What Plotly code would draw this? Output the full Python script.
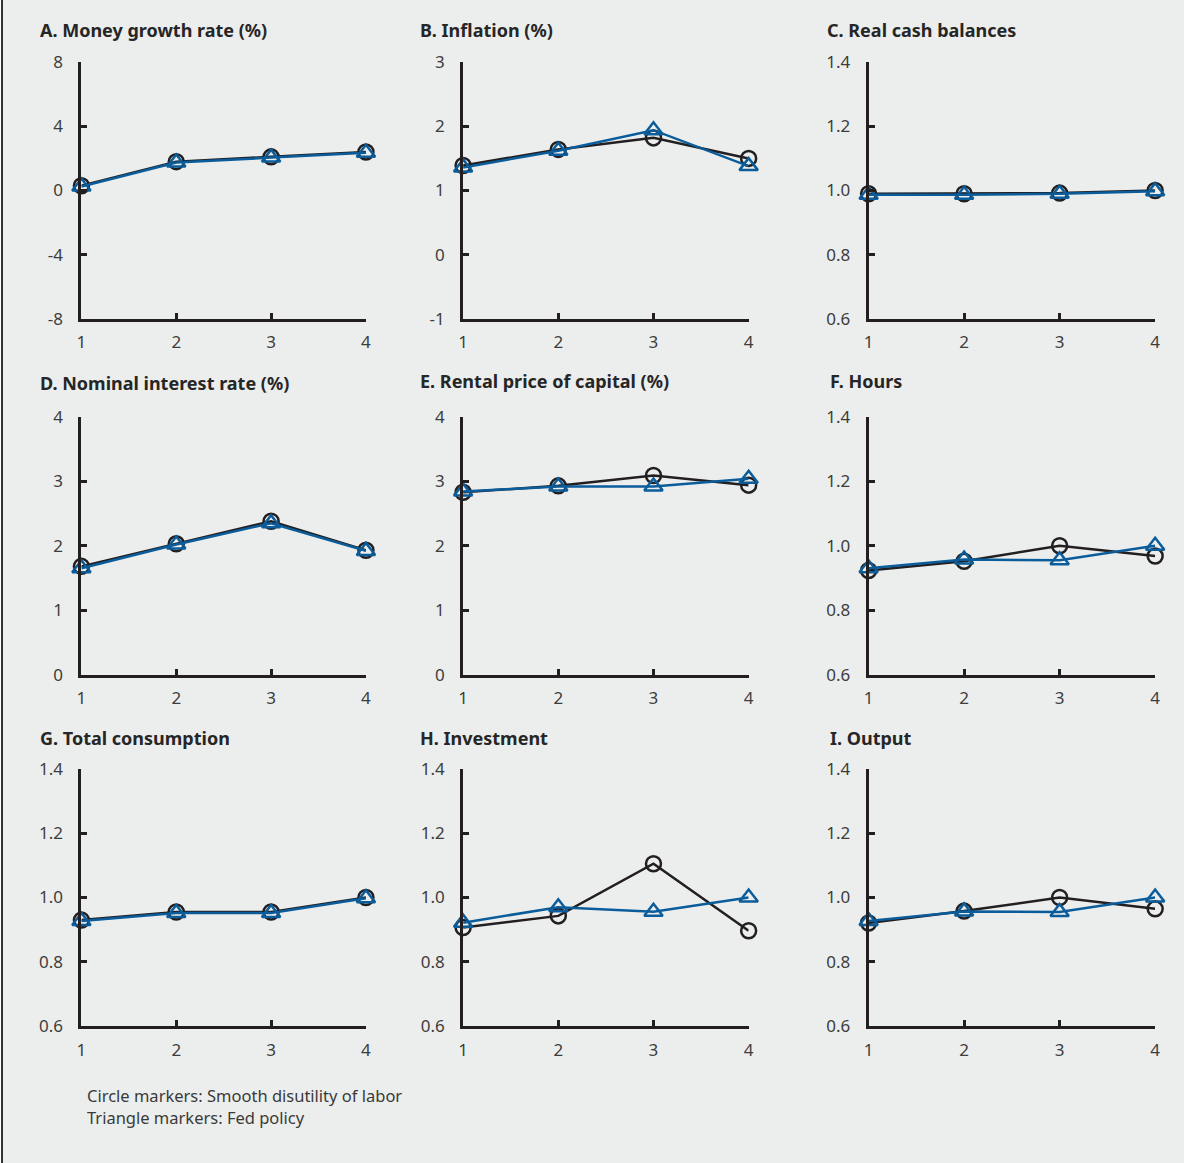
import plotly.graph_objects as go

# The page keeps the browser's default 8px body margin, so the figure is
# sized to fill the 1184x1163 window exactly inside that margin.
PAGE_W, PAGE_H = 1184, 1163
OFF = 8
W, H = PAGE_W - 2 * OFF, PAGE_H - 2 * OFF

periods = [1, 2, 3, 4]

titles = ["A. Money growth rate (%)", "B. Inflation (%)", "C. Real cash balances",
          "D. Nominal interest rate (%)", "E. Rental price of capital (%)", "F. Hours",
          "G. Total consumption", "H. Investment", "I. Output"]

# Circle markers: Smooth disutility of labor
smooth_A = [0.3, 1.8, 2.1, 2.4]
smooth_B = [1.39, 1.64, 1.82, 1.50]
smooth_C = [0.99, 0.99, 0.992, 1.0]
smooth_D = [1.68, 2.03, 2.38, 1.93]
smooth_E = [2.83, 2.93, 3.09, 2.94]
smooth_F = [0.923, 0.952, 1.0, 0.968]
smooth_G = [0.93, 0.955, 0.955, 1.0]
smooth_H = [0.907, 0.943, 1.105, 0.897]
smooth_I = [0.921, 0.958, 1.0, 0.965]

# Triangle markers: Fed policy
fed_A = [0.25, 1.75, 2.05, 2.35]
fed_B = [1.36, 1.62, 1.94, 1.38]
fed_C = [0.987, 0.987, 0.99, 0.998]
fed_D = [1.65, 2.02, 2.35, 1.92]
fed_E = [2.84, 2.92, 2.92, 3.04]
fed_F = [0.93, 0.957, 0.955, 1.0]
fed_G = [0.927, 0.952, 0.952, 0.998]
fed_H = [0.922, 0.97, 0.956, 1.0]
fed_I = [0.927, 0.957, 0.955, 1.0]

y_ranges = [[-8, 8], [-1, 3], [0.6, 1.4],
            [0, 4], [0, 4], [0.6, 1.4],
            [0.6, 1.4], [0.6, 1.4], [0.6, 1.4]]
y_tickvals = [[-8, -4, 0, 4, 8], [-1, 0, 1, 2, 3], [0.6, 0.8, 1.0, 1.2, 1.4],
              [0, 1, 2, 3, 4], [0, 1, 2, 3, 4], [0.6, 0.8, 1.0, 1.2, 1.4],
              [0.6, 0.8, 1.0, 1.2, 1.4], [0.6, 0.8, 1.0, 1.2, 1.4], [0.6, 0.8, 1.0, 1.2, 1.4]]
y_ticktext = [["-8", "-4", "0", "4", "8"], ["-1", "0", "1", "2", "3"],
              ["0.6", "0.8", "1.0", "1.2", "1.4"],
              ["0", "1", "2", "3", "4"], ["0", "1", "2", "3", "4"],
              ["0.6", "0.8", "1.0", "1.2", "1.4"],
              ["0.6", "0.8", "1.0", "1.2", "1.4"], ["0.6", "0.8", "1.0", "1.2", "1.4"],
              ["0.6", "0.8", "1.0", "1.2", "1.4"]]

smooth = [smooth_A, smooth_B, smooth_C, smooth_D, smooth_E, smooth_F, smooth_G, smooth_H, smooth_I]
fed = [fed_A, fed_B, fed_C, fed_D, fed_E, fed_F, fed_G, fed_H, fed_I]

note_lines = ["Circle markers: Smooth disutility of labor", "Triangle markers: Fed policy"]

BG = "#eceeed"
BLACK = "#231f20"
BLUE = "#0b5c9a"
TICKCOL = "#3d3d3d"
FONT = "Noto Sans"

# layout geometry (page pixels)
col_px = [(77, 364), (462, 750), (871, 1160)]
row_px = [(51, 313), (413, 676), (772, 1035)]
title_px = [(33, 18), (417, 18), (827, 18),
            (33, 378), (417, 376), (830, 376),
            (33, 741), (417, 741), (830, 741)]


def px_x(x):
    return (x - OFF) / W


def px_y(y):
    return 1 - (y - OFF) / H


fig = go.Figure()
layout = dict(
    width=W, height=H,
    paper_bgcolor=BG, plot_bgcolor=BG,
    margin=dict(l=0, r=0, t=0, b=0),
    showlegend=False,
    font=dict(family=FONT, size=17, color=TICKCOL),
)

annotations = []
for i in range(9):
    r, c = divmod(i, 3)
    n = "" if i == 0 else str(i + 1)
    xa, ya = "x" + n, "y" + n
    fig.add_trace(go.Scatter(
        x=periods, y=smooth[i], xaxis=xa, yaxis=ya, mode="lines+markers",
        line=dict(color=BLACK, width=2.5),
        marker=dict(symbol="circle-open", size=15, color=BLACK, line=dict(width=2.5, color=BLACK)),
        cliponaxis=False, name="Smooth disutility of labor"))
    fig.add_trace(go.Scatter(
        x=periods, y=fed[i], xaxis=xa, yaxis=ya, mode="lines+markers",
        line=dict(color=BLUE, width=2.5),
        marker=dict(symbol="triangle-up-open", size=16, color=BLUE, line=dict(width=2.5, color=BLUE)),
        cliponaxis=False, name="Fed policy"))
    x0, x1 = col_px[c]
    y0, y1 = row_px[r]
    layout["xaxis" + n] = dict(
        domain=[px_x(x0), px_x(x1)], anchor=ya, range=[1, 4],
        tickvals=periods, ticktext=[str(p) for p in periods],
        showline=True, linewidth=3, linecolor=BLACK, showgrid=False, zeroline=False,
        ticks="inside", ticklen=6, tickwidth=2.5, tickcolor=BLACK,
        tickfont=dict(family=FONT, size=17, color=TICKCOL), ticklabelstandoff=6,
        fixedrange=True)
    layout["yaxis" + n] = dict(
        domain=[px_y(y1), px_y(y0)], anchor=xa, range=y_ranges[i],
        tickvals=y_tickvals[i], ticktext=y_ticktext[i],
        showline=True, linewidth=3, linecolor=BLACK, showgrid=False, zeroline=False,
        ticks="inside", ticklen=6, tickwidth=2.5, tickcolor=BLACK,
        tickfont=dict(family=FONT, size=17, color=TICKCOL), ticklabelstandoff=12,
        fixedrange=True)
    tx, ty = title_px[i]
    annotations.append(dict(
        text="<b>" + titles[i] + "</b>", xref="paper", yref="paper",
        x=px_x(tx), y=px_y(ty), xanchor="left", yanchor="middle", showarrow=False,
        font=dict(family=FONT, size=18, color="#262626")))

for k, line in enumerate(note_lines):
    annotations.append(dict(
        text=line, xref="paper", yref="paper",
        x=px_x(81), y=px_y(1106 + 22 * k), xanchor="left", yanchor="middle",
        showarrow=False, font=dict(family=FONT, size=16.5, color="#3a3a3a")))

layout["annotations"] = annotations

fig.update_layout(**layout)
# page background: grey panel with the thin dark rule at the left edge
fig.write_html(
    "out.html", config={"displayModeBar": False},
    post_script=("document.documentElement.style.background="
                 "'linear-gradient(to right, #ffffff 0px, #ffffff 1px, #333333 1px, #333333 3px, "
                 + BG + " 3px)';"))
